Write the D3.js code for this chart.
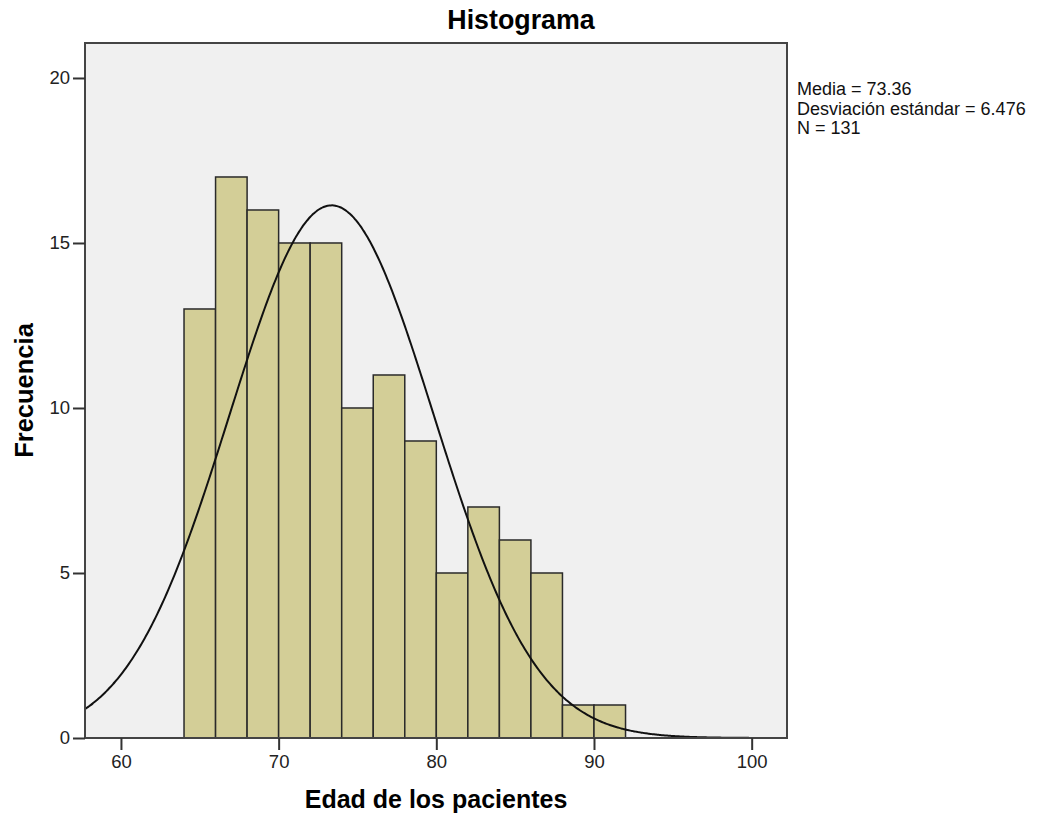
<!DOCTYPE html>
<html>
<head>
<meta charset="utf-8">
<script src="https://cdn.jsdelivr.net/npm/d3@7"></script>
<style>
  body { margin: 0; background: #fff; }
  svg { display: block; font-family: "Liberation Sans", Arial, sans-serif; }
</style>
</head>
<body>
<div id="chart"></div>
<script>
// histogram bins (age, 2-year width) and counts
const binStarts = [64, 66, 68, 70, 72, 74, 76, 78, 80, 82, 84, 86, 88, 90];
const binWidth = 2;
const counts = [13, 17, 16, 15, 15, 10, 11, 9, 5, 7, 6, 5, 1, 1];
const xTicks = [60, 70, 80, 90, 100];
const yTicks = [0, 5, 10, 15, 20];
// summary shown in the legend
const mean = 73.36;
const sd = 6.476;
const n = 131;
const legendLines = ["Media = 73.36", "Desviación estándar = 6.476", "N = 131"];

const width = 1040;
const height = 818;
const plot = { left: 85, right: 787, top: 43, bottom: 738 };

const x = d3.scaleLinear().domain([57.72, 102.24]).range([plot.left, plot.right]);
const y = d3.scaleLinear().domain([0, 21.06]).range([plot.bottom, plot.top]);

const svg = d3.select("#chart")
  .append("svg")
  .attr("width", width)
  .attr("height", height)
  .attr("viewBox", [0, 0, width, height]);

svg.append("defs").append("clipPath")
    .attr("id", "clip")
  .append("rect")
    .attr("x", plot.left)
    .attr("y", plot.top)
    .attr("width", plot.right - plot.left)
    .attr("height", plot.bottom - plot.top);

// plot background
svg.append("rect")
  .attr("x", plot.left)
  .attr("y", plot.top)
  .attr("width", plot.right - plot.left)
  .attr("height", plot.bottom - plot.top)
  .attr("fill", "#f0f0f0");

// bars
svg.append("g")
  .selectAll("rect")
  .data(binStarts)
  .enter()
  .append("rect")
    .attr("x", d => x(d))
    .attr("y", (d, i) => y(counts[i]))
    .attr("width", d => x(d + binWidth) - x(d))
    .attr("height", (d, i) => y(0) - y(counts[i]))
    .attr("fill", "#d3ce97")
    .attr("stroke", "#2a2a2a")
    .attr("stroke-width", 1.5);

// fitted normal curve, scaled to counts (n * bin width * density)
const curveX = d3.range(57.5, 102.5, 0.1);
const density = v => n * binWidth / (sd * Math.sqrt(2 * Math.PI)) *
  Math.exp(-0.5 * ((v - mean) / sd) ** 2);
const line = d3.line()
  .x(d => x(d))
  .y(d => y(density(d)))
  .curve(d3.curveMonotoneX);

svg.append("path")
  .attr("clip-path", "url(#clip)")
  .attr("d", line(curveX))
  .attr("fill", "none")
  .attr("stroke", "#111")
  .attr("stroke-width", 2);

// frame
svg.append("rect")
  .attr("x", plot.left)
  .attr("y", plot.top)
  .attr("width", plot.right - plot.left)
  .attr("height", plot.bottom - plot.top)
  .attr("fill", "none")
  .attr("stroke", "#444")
  .attr("stroke-width", 2);

// axes
const xAxis = svg.append("g")
  .attr("transform", `translate(0,${plot.bottom})`)
  .call(d3.axisBottom(x).tickValues(xTicks).tickSize(12).tickPadding(5).tickFormat(d3.format("d")));
const yAxis = svg.append("g")
  .attr("transform", `translate(${plot.left},0)`)
  .call(d3.axisLeft(y).tickValues(yTicks).tickSize(12).tickPadding(3).tickFormat(d3.format("d")));

[xAxis, yAxis].forEach(g => {
  g.select(".domain").remove();
  g.selectAll(".tick line").attr("stroke", "#333").attr("stroke-width", 2);
  g.selectAll(".tick text")
    .attr("fill", "#222")
    .attr("font-size", 18.5)
    .attr("font-family", "'Liberation Sans', Arial, sans-serif");
});

// titles
svg.append("text")
  .attr("x", 521)
  .attr("y", 29)
  .attr("text-anchor", "middle")
  .attr("font-size", 26.8)
  .attr("font-weight", "bold")
  .text("Histograma");

svg.append("text")
  .attr("x", (plot.left + plot.right) / 2)
  .attr("y", 808)
  .attr("text-anchor", "middle")
  .attr("font-size", 25)
  .attr("font-weight", "bold")
  .text("Edad de los pacientes");

svg.append("text")
  .attr("transform", `translate(33,${(plot.top + plot.bottom) / 2}) rotate(-90)`)
  .attr("text-anchor", "middle")
  .attr("font-size", 25.5)
  .attr("font-weight", "bold")
  .text("Frecuencia");

// legend
svg.append("g")
  .selectAll("text")
  .data(legendLines)
  .enter()
  .append("text")
    .attr("x", 797)
    .attr("y", (d, i) => 95 + i * 19.5)
    .attr("font-size", 18)
    .attr("fill", "#111")
    .text(d => d);
</script>
</body>
</html>
